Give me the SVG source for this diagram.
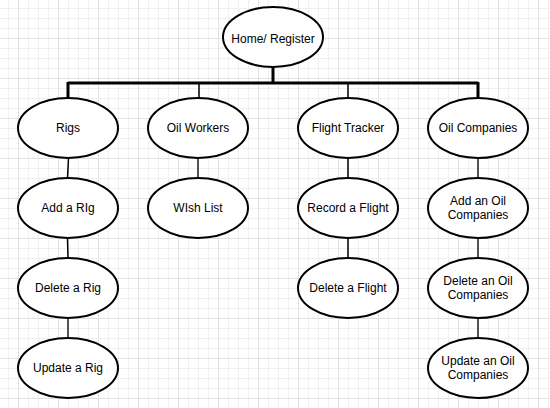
<svg xmlns="http://www.w3.org/2000/svg" width="550" height="408" viewBox="0 0 550 408">
  <defs>
    <pattern id="minor" x="8" y="8" width="10" height="10" patternUnits="userSpaceOnUse">
      <path d="M0.5 0V10M0 0.5H10" stroke="#f0f0f0" stroke-width="1" fill="none"/>
    </pattern>
    <pattern id="major" x="18" y="38" width="40" height="40" patternUnits="userSpaceOnUse">
      <path d="M0.5 0V40M0 0.5H40" stroke="#e2e2e2" stroke-width="1" fill="none"/>
    </pattern>
  </defs>
  <style>
    .node ellipse { fill: #ffffff; stroke: #000000; stroke-width: 2; }
    .node text { font-family: "Liberation Sans", Arial, Helvetica, sans-serif; font-size: 12px; fill: #000000; text-anchor: middle; }
    .thick { stroke: #000000; stroke-width: 3; fill: none; }
    .thin { stroke: #000000; stroke-width: 1.5; fill: none; }
    .gray { stroke: #555555; stroke-width: 2; fill: none; }
  </style>
  <rect width="550" height="408" fill="#ffffff"/>
  <rect width="550" height="408" fill="url(#minor)"/>
  <rect width="550" height="408" fill="url(#major)"/>

  <g id="connectors">
    <path class="thick" d="M273 67V83M68 83H478M68 82V98M478 82V98"/>
    <path class="thin" d="M199 83V98M348 83V98"/>
    <path class="thin" d="M68.5 158L67.5 178M67.5 238L68 258M348 158V178M348 238V258"/>
    <path class="gray" d="M198 158V178M68 318V338M478 158V178M478 238V258M478 318V338"/>
  </g>

  <g id="home" class="node"><ellipse cx="273" cy="37" rx="50" ry="30"/><text x="273" y="43">Home/ Register</text></g>

  <g id="rigs" class="node"><ellipse cx="68" cy="128" rx="50" ry="30"/><text x="68" y="132">Rigs</text></g>
  <g id="oil-workers" class="node"><ellipse cx="198" cy="128" rx="50" ry="30"/><text x="198" y="132">Oil Workers</text></g>
  <g id="flight-tracker" class="node"><ellipse cx="348" cy="128" rx="50" ry="30"/><text x="348" y="132">Flight Tracker</text></g>
  <g id="oil-companies" class="node"><ellipse cx="478" cy="128" rx="50" ry="30"/><text x="478" y="132">Oil Companies</text></g>

  <g id="add-rig" class="node"><ellipse cx="68" cy="208" rx="50" ry="30"/><text x="68" y="212">Add a RIg</text></g>
  <g id="wish-list" class="node"><ellipse cx="198" cy="208" rx="50" ry="30"/><text x="198" y="212">WIsh List</text></g>
  <g id="record-flight" class="node"><ellipse cx="348" cy="208" rx="50" ry="30"/><text x="348" y="212">Record a Flight</text></g>
  <g id="add-oil-company" class="node"><ellipse cx="478" cy="208" rx="50" ry="30"/><text x="478" y="205">Add an Oil</text><text x="478" y="219">Companies</text></g>

  <g id="delete-rig" class="node"><ellipse cx="68" cy="288" rx="50" ry="30"/><text x="68" y="292">Delete a Rig</text></g>
  <g id="delete-flight" class="node"><ellipse cx="348" cy="288" rx="50" ry="30"/><text x="348" y="292">Delete a Flight</text></g>
  <g id="delete-oil-company" class="node"><ellipse cx="478" cy="288" rx="50" ry="30"/><text x="478" y="285">Delete an Oil</text><text x="478" y="299">Companies</text></g>

  <g id="update-rig" class="node"><ellipse cx="68" cy="368" rx="50" ry="30"/><text x="68" y="372">Update a Rig</text></g>
  <g id="update-oil-company" class="node"><ellipse cx="478" cy="368" rx="50" ry="30"/><text x="478" y="365">Update an Oil</text><text x="478" y="379">Companies</text></g>
</svg>
